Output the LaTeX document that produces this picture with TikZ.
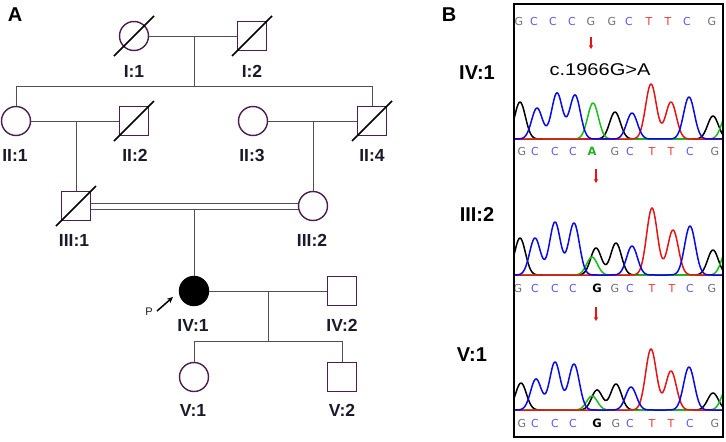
\documentclass[tikz,border=0pt]{standalone}
\usepackage{fontspec}
\setmainfont{Liberation Sans}
\newfontfamily\dvs{DejaVu Sans}
\usetikzlibrary{arrows.meta}
\definecolor{outl}{HTML}{4A1E4E}
\definecolor{linec}{HTML}{505050}
\definecolor{lblc}{HTML}{1A1A2A}
\definecolor{sqgray}{HTML}{707070}
\definecolor{sqblue}{HTML}{5A5AF0}
\definecolor{sqred}{HTML}{F03A3A}
\definecolor{sqgreen}{HTML}{22B022}
\definecolor{trblue}{HTML}{0A0AE6}
\definecolor{trgreen}{HTML}{18C018}
\definecolor{trred}{HTML}{E61414}
\newcommand\pedslash[1]{\draw[slashst] ([shift={(-20,20)}]#1.center) -- ([shift={(20,-20)}]#1.center);}
\begin{document}
\begin{tikzpicture}[x=1pt,y=-1pt,
  declare function={g(\x,\c)=exp(-min(((\x-\c)/7.6)^2,40));},
  fem/.style={circle,draw=outl,line width=1.4pt,minimum size=29pt,inner sep=0pt,fill=white},
  mal/.style={rectangle,draw=outl,line width=1.4pt,minimum size=29pt,inner sep=0pt,fill=white},
  conn/.style={draw=linec,line width=1pt},
  slashst/.style={draw=black,line width=1.6pt},
  lbl/.style={font=\fontsize{17.5}{17.5}\selectfont\bfseries,text=lblc,inner sep=0pt},
  biglbl/.style={font=\fontsize{20}{20}\selectfont\bfseries,text=black,inner sep=0pt},
  seq/.style={font=\dvs\fontsize{11}{11}\selectfont,inner sep=0pt},
  seqb/.style={font=\dvs\fontsize{11.5}{11.5}\selectfont\bfseries,inner sep=0pt},
  redarr/.style={draw=trred,line width=1.3pt,-{Stealth[length=4pt,width=4.5pt]}},
  parrow/.style={draw=black,line width=1.5pt,-{Stealth[length=6pt,width=5.5pt]}},
  trace/.style={line width=1.5pt,line join=round}
]
\useasboundingbox (0,0) rectangle (726,442);
% ---------- panel A ----------
\node[biglbl] (labA) at (15,15) {A};
\node[fem] (i1) at (134,36) {};
\node[mal] (i2) at (252,36) {};
\node[fem] (ii1) at (16,121) {};
\node[mal] (ii2) at (134,121) {};
\node[fem] (ii3) at (253,121) {};
\node[mal] (ii4) at (372,121) {};
\node[mal] (iii1) at (76,206) {};
\node[fem] (iii2) at (313,206) {};
\node[fem,fill=black,draw=black] (iv1) at (194,291) {};
\node[mal] (iv2) at (342,291) {};
\node[fem] (v1) at (194,377) {};
\node[mal] (v2) at (342,377) {};
\pedslash{i1}
\pedslash{i2}
\pedslash{ii2}
\pedslash{ii4}
\pedslash{iii1}
% generation I
\coordinate (m1) at (194,36);
\coordinate (s1) at (194,86);
\draw[conn] (i1.east) -- (i2.west);
\draw[conn] (m1) -- (s1);
\draw[conn] (ii1.north) -- (ii1.north |- s1) -- (ii4.north |- s1) -- (ii4.north);
% generation II
\draw[conn] (ii1.east) -- (ii2.west);
\draw[conn] (iii1.north) -- (iii1.north |- ii1.east);
\draw[conn] (ii3.east) -- (ii4.west);
\draw[conn] (iii2.north) -- (iii2.north |- ii3.east);
% consanguineous marriage
\coordinate (dl) at ([yshift=-3pt]iii1.east);
\draw[conn] ([yshift=3pt]iii1.east) -- ([yshift=3pt]iii2.west);
\draw[conn] ([yshift=-3pt]iii1.east) -- ([yshift=-3pt]iii2.west);
\draw[conn] (iv1.north) -- (iv1.north |- dl);
% generation IV
\coordinate (m4) at (268,291);
\coordinate (s4) at (268,341);
\draw[conn] (iv1.east) -- (iv2.west);
\draw[conn] (m4) -- (s4);
\draw[conn] (v1.north) -- (v1.north |- s4) -- (v2.north |- s4) -- (v2.north);
% proband arrow
\node[font=\fontsize{11}{11}\selectfont,text=lblc,inner sep=0pt] (p) at (149,312) {P};
\coordinate (pst) at (157,311);
\coordinate (pen) at (173,297);
\draw[parrow] (pst) -- (pen);
% labels
\node[lbl] (l-i1) at (134,71) {I:1};
\node[lbl] (l-i2) at (252,71) {I:2};
\node[lbl] (l-ii1) at (15,155) {II:1};
\node[lbl] (l-ii2) at (135,155) {II:2};
\node[lbl] (l-ii3) at (252,155) {II:3};
\node[lbl] (l-ii4) at (372,155) {II:4};
\node[lbl] (l-iii1) at (74,240) {III:1};
\node[lbl] (l-iii2) at (312,240) {III:2};
\node[lbl] (l-iv1) at (193,325) {IV:1};
\node[lbl] (l-iv2) at (342,325) {IV:2};
\node[lbl] (l-v1) at (193,410) {V:1};
\node[lbl] (l-v2) at (342,410) {V:2};
% ---------- panel B ----------
\node[biglbl] (labB) at (449,15) {B};
\node[biglbl] (b-iv1) at (477,73) {IV:1};
\node[biglbl] (b-iii2) at (477,215) {III:2};
\node[biglbl] (b-v1) at (472,355) {V:1};
\node[font=\fontsize{17}{17}\selectfont,xscale=1.18,inner sep=0pt] (mut) at (600,70) {c.1966G>A};
% sequence rows
\foreach \xx/\ll/\cc [count=\i] in {519/G/sqgray,534/C/sqblue,553/C/sqblue,572/C/sqblue,591/G/sqgray,612/G/sqgray,629/C/sqblue,649/T/sqred,668/T/sqred,687/C/sqblue,712/G/sqgray}
  \node[seq,text=\cc] (ra-\i) at (\xx,21) {\ll};
\foreach \xx/\ll/\cc [count=\i] in {522/G/sqgray,535/C/sqblue,555/C/sqblue,573/C/sqblue,615/G/sqgray,630/C/sqblue,652/T/sqred,671/T/sqred,690/C/sqblue,715/G/sqgray}
  \node[seq,text=\cc] (rb-\i) at (\xx,151) {\ll};
\node[seqb,text=sqgreen] (rb-A) at (592,151) {A};
\foreach \xx/\ll/\cc [count=\i] in {518/G/sqgray,535/C/sqblue,555/C/sqblue,573/C/sqblue,615/G/sqgray,630/C/sqblue,652/T/sqred,672/T/sqred,690/C/sqblue,712/G/sqgray}
  \node[seq,text=\cc] (rc-\i) at (\xx,288) {\ll};
\node[seqb,text=black] (rc-G) at (597,288) {G};
\foreach \xx/\ll/\cc [count=\i] in {522/G/sqgray,535/C/sqblue,555/C/sqblue,573/C/sqblue,616/G/sqgray,630/C/sqblue,652/T/sqred,671/T/sqred,690/C/sqblue,715/G/sqgray}
  \node[seq,text=\cc] (rd-\i) at (\xx,423) {\ll};
\node[seqb,text=black] (rd-G) at (597,423) {G};
% red arrows
\coordinate (a1s) at (591,37); \coordinate (a1e) at (591,49);
\coordinate (a2s) at (596,169); \coordinate (a2e) at (596,183);
\coordinate (a3s) at (596,307); \coordinate (a3e) at (596,321);
\draw[redarr] (a1s) -- (a1e);
\draw[redarr] (a2s) -- (a2e);
\draw[redarr] (a3s) -- (a3e);
% traces
\begin{scope}
\clip (514,4) rectangle (723,437);
% trace 1
\draw[trace,black] plot[domain=510:730,samples=221] (\x,{139-37*g(\x,520)-27*g(\x,615)-23*g(\x,713)});
\draw[trace,trgreen] plot[domain=510:730,samples=221] (\x,{139-36*g(\x,593)-25*g(\x,727)});
\draw[trace,trred] plot[domain=510:730,samples=221] (\x,{139-55*g(\x,651)-37*g(\x,671)});
\draw[trace,trblue] plot[domain=510:730,samples=221] (\x,{139-31*g(\x,537)-46*g(\x,557)-44*g(\x,575)-26*g(\x,632)-42*g(\x,689)});
% trace 2
\draw[trace,black] plot[domain=510:730,samples=221] (\x,{275-37*g(\x,520)-27*g(\x,596)-32*g(\x,616)-25*g(\x,713)});
\draw[trace,trgreen] plot[domain=510:730,samples=221] (\x,{275-18*g(\x,592)-25*g(\x,727)});
\draw[trace,trred] plot[domain=510:730,samples=221] (\x,{275-67*g(\x,652)-45*g(\x,673)});
\draw[trace,trblue] plot[domain=510:730,samples=221] (\x,{275-37*g(\x,535)-53*g(\x,555)-52*g(\x,574)-29*g(\x,632)-49*g(\x,690)});
% trace 3
\draw[trace,black] plot[domain=510:730,samples=221] (\x,{410-27*g(\x,521)-20*g(\x,597)-26*g(\x,616)-17*g(\x,713)});
\draw[trace,trgreen] plot[domain=510:730,samples=221] (\x,{410-14*g(\x,592)-22*g(\x,727)});
\draw[trace,trred] plot[domain=510:730,samples=221] (\x,{410-61*g(\x,651)-39*g(\x,671)});
\draw[trace,trblue] plot[domain=510:730,samples=221] (\x,{410-31*g(\x,536)-48*g(\x,555)-46*g(\x,574)-23*g(\x,631)-43*g(\x,689)});
\end{scope}
\draw[line width=1.3pt] (514,4) rectangle (723,437);
\end{tikzpicture}
\end{document}
